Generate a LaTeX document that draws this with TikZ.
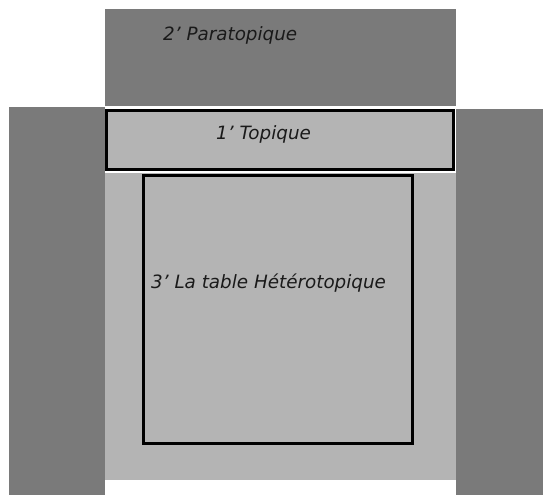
\documentclass[tikz,border=0pt]{standalone}
\usepackage{fontspec}
\setmainfont{DejaVu Sans}
\definecolor{darkfill}{HTML}{7A7A7A}
\definecolor{lightfill}{HTML}{B4B4B4}
\definecolor{txt}{HTML}{1A1A1A}
\begin{document}
\begin{tikzpicture}[x=1bp,y=-1bp,
  zone/.style={rectangle, inner sep=0pt, outer sep=0pt, anchor=north west, draw=none},
  darkzone/.style={zone, fill=darkfill},
  lightzone/.style={zone, fill=lightfill},
  framed/.style={rectangle, inner sep=0pt, outer sep=0pt, anchor=north west, draw=black, line width=3bp},
  lbl/.style={inner sep=0pt, anchor=base west, text=txt, font=\fontsize{18.4}{22}\selectfont\itshape}]
\useasboundingbox (0,0) rectangle (543,495);
% dark zones
\node[darkzone, minimum width=96bp, minimum height=388bp] (left) at (9,107) {};
\node[darkzone, minimum width=87bp, minimum height=386bp] (right) at (456,109) {};
\node[darkzone, minimum width=351bp, minimum height=97bp] (para) at (105,9) {};
% light zone
\node[lightzone, minimum width=351bp, minimum height=307bp] (hetero) at (105,173) {};
% topique box
\node[framed, fill=lightfill, minimum width=347.3bp, minimum height=59bp] (topique) at (106.5,110.5) {};
% table box
\node[framed, line width=2.6bp, minimum width=269.4bp, minimum height=268.4bp] (table) at (143.3,175.3) {};
% labels
\node[lbl] (paralbl) at (163,41) {2' Paratopique};
\node[lbl] (topilbl) at (216,140) {1' Topique};
\node[lbl] (tablbl) at (151,288) {3' La table Hétérotopique};
\end{tikzpicture}
\end{document}
